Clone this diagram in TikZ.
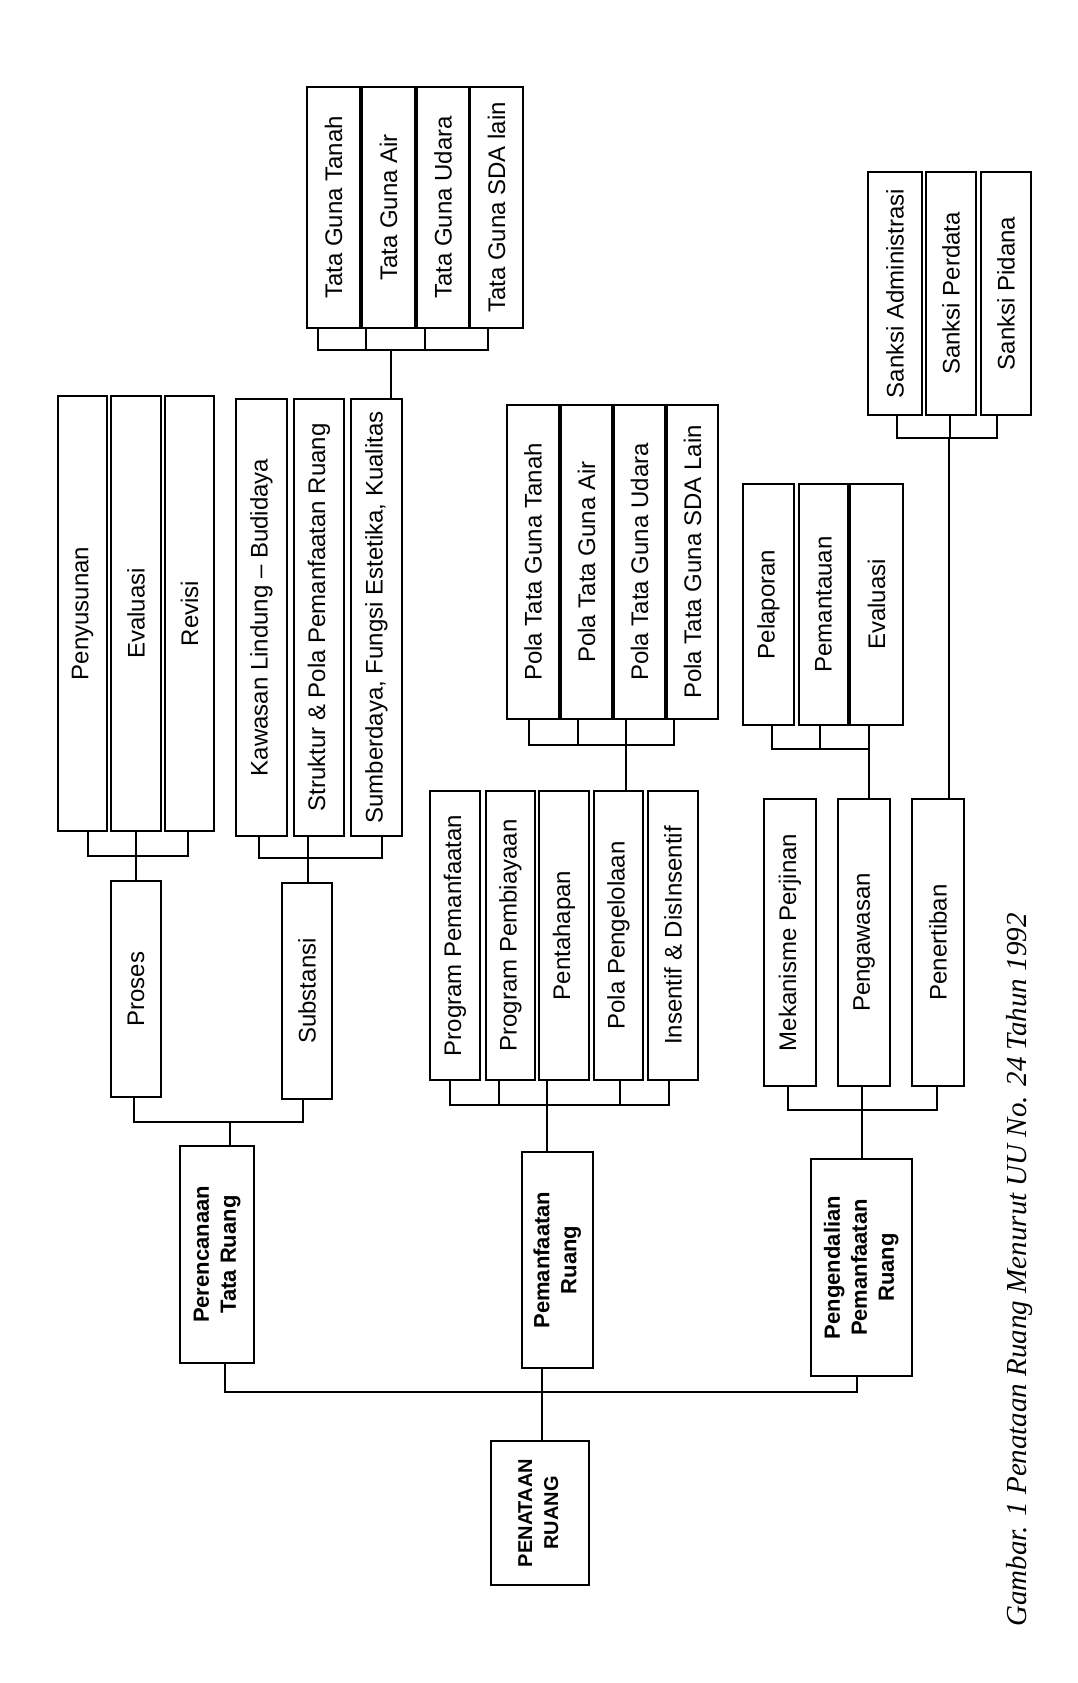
\documentclass[tikz,border=0pt]{standalone}
\usepackage{fontspec}
\usepackage{graphicx}
\setmainfont{Liberation Sans}
\newfontfamily\judulfont{Liberation Serif}

\tikzset{
  kotak/.style={draw, line width=2pt, inner sep=0pt, font=\fontsize{24}{29}\selectfont},
  induk/.style={draw, line width=2pt, inner sep=0pt, font=\fontsize{22}{27}\selectfont\bfseries},
  garis/.style={line width=2pt},
}
\newcommand{\tegak}[1]{\rotatebox{90}{#1}}
\newcommand{\tebal}[1]{\rotatebox{90}{\begin{tabular}{@{}c@{}}#1\end{tabular}}}

\begin{document}
\begin{tikzpicture}[x=1pt, y=-1pt]
    \useasboundingbox (0,0) rectangle (1078,1683);

    % Akar
    \node[induk, font=\fontsize{20}{26}\selectfont\bfseries, minimum width=98pt, minimum height=144pt] (penataan) at (540,1513) {\tebal{PENATAAN\\RUANG}};

    % Tingkat 1
    \node[induk, minimum width=74pt, minimum height=217pt] (perencanaan) at (217,1254.5) {\tebal{Perencanaan\\Tata Ruang}};
    \node[induk, minimum width=71pt, minimum height=216pt] (pemanfaatan) at (557.5,1260) {\tebal{Pemanfaatan\\Ruang}};
    \node[induk, minimum width=101pt, minimum height=217pt] (pengendalian) at (861.5,1267.5) {\tebal{Pengendalian\\Pemanfaatan\\Ruang}};

    % Tingkat 2
    \node[kotak, minimum width=50pt, minimum height=216pt] (proses) at (136,989) {\tegak{Proses}};
    \node[kotak, minimum width=50pt, minimum height=216pt] (substansi) at (307,991) {\tegak{Substansi}};

    \node[kotak, minimum width=50pt, minimum height=289pt] (progpemanfaatan) at (455,935.5) {\tegak{Program Pemanfaatan}};
    \node[kotak, minimum width=49pt, minimum height=289pt] (progpembiayaan) at (510.5,935.5) {\tegak{Program Pembiayaan}};
    \node[kotak, minimum width=50pt, minimum height=289pt] (pentahapan) at (564,935.5) {\tegak{Pentahapan}};
    \node[kotak, minimum width=49pt, minimum height=289pt] (pengelolaan) at (618.5,935.5) {\tegak{Pola Pengelolaan}};
    \node[kotak, minimum width=50pt, minimum height=289pt] (insentif) at (673,935.5) {\tegak{Insentif \& DisInsentif}};

    \node[kotak, minimum width=52pt, minimum height=287pt] (mekanisme) at (790,942.5) {\tegak{Mekanisme Perjinan}};
    \node[kotak, minimum width=52pt, minimum height=287pt] (pengawasan) at (864,942.5) {\tegak{Pengawasan}};
    \node[kotak, minimum width=52pt, minimum height=287pt] (penertiban) at (938,942.5) {\tegak{Penertiban}};

    % Tingkat 3
    \node[kotak, minimum width=49pt, minimum height=435pt] (penyusunan) at (82.5,613.5) {\tegak{Penyusunan}};
    \node[kotak, minimum width=50pt, minimum height=435pt] (evaluasi) at (136,613.5) {\tegak{Evaluasi}};
    \node[kotak, minimum width=49pt, minimum height=435pt] (revisi) at (189.5,613.5) {\tegak{Revisi}};

    \node[kotak, minimum width=51pt, minimum height=437pt] (kawasan) at (261.5,617.5) {\tegak{Kawasan Lindung -- Budidaya}};
    \node[kotak, minimum width=50pt, minimum height=437pt] (struktur) at (319,617.5) {\tegak{Struktur \& Pola Pemanfaatan Ruang}};
    \node[kotak, minimum width=51pt, minimum height=437pt] (sumberdaya) at (376.5,617.5) {\tegak{Sumberdaya, Fungsi Estetika, Kualitas}};

    \node[kotak, minimum width=52pt, minimum height=314pt] (polatanah) at (533,562) {\tegak{Pola Tata Guna Tanah}};
    \node[kotak, minimum width=51pt, minimum height=314pt] (polaair) at (586.5,562) {\tegak{Pola Tata Guna Air}};
    \node[kotak, minimum width=51pt, minimum height=314pt] (polaudara) at (639.5,562) {\tegak{Pola Tata Guna Udara}};
    \node[kotak, minimum width=51pt, minimum height=314pt] (polasda) at (692.5,562) {\tegak{Pola Tata Guna SDA Lain}};

    \node[kotak, minimum width=51pt, minimum height=241pt] (pelaporan) at (768.5,604.5) {\tegak{Pelaporan}};
    \node[kotak, minimum width=49pt, minimum height=241pt] (pemantauan) at (823.5,604.5) {\tegak{Pemantauan}};
    \node[kotak, minimum width=53pt, minimum height=241pt] (evaluasib) at (876.5,604.5) {\tegak{Evaluasi}};

    % Tingkat 4
    \node[kotak, minimum width=53pt, minimum height=241pt] (tgtanah) at (333.5,207.5) {\tegak{Tata Guna Tanah}};
    \node[kotak, minimum width=53pt, minimum height=241pt] (tgair) at (388.5,207.5) {\tegak{Tata Guna Air}};
    \node[kotak, minimum width=52pt, minimum height=241pt] (tgudara) at (443,207.5) {\tegak{Tata Guna Udara}};
    \node[kotak, minimum width=53pt, minimum height=241pt] (tgsda) at (496.5,207.5) {\tegak{Tata Guna SDA lain}};

    \node[kotak, minimum width=54pt, minimum height=243pt] (sanksiadm) at (895,293.5) {\tegak{Sanksi Administrasi}};
    \node[kotak, minimum width=50pt, minimum height=243pt] (sanksiperdata) at (951,293.5) {\tegak{Sanksi Perdata}};
    \node[kotak, minimum width=50pt, minimum height=243pt] (sanksipidana) at (1006,293.5) {\tegak{Sanksi Pidana}};

    % Titik simpul garis penghubung
    \coordinate (jA) at (391,350);
    \coordinate (jB) at (135.5,856);
    \coordinate (jC) at (308,858);
    \coordinate (jD) at (230,1122);
    \coordinate (jE) at (626,745);
    \coordinate (jF) at (547,1105);
    \coordinate (jG) at (869,749);
    \coordinate (jH) at (949,438);
    \coordinate (jI) at (862,1110);
    \coordinate (jJ) at (542,1392);

    % Tata Guna -> Sumberdaya
    \draw[garis] (jA) -- (sumberdaya.north -| jA);
    \draw[garis] ([xshift=-15.5pt]tgtanah.south) |- (jA);
    \draw[garis] ([xshift=-22.5pt]tgair.south) |- (jA);
    \draw[garis] ([xshift=-18pt]tgudara.south) |- (jA);
    \draw[garis] ([xshift=-8.5pt]tgsda.south) |- (jA);

    % Penyusunan, Evaluasi, Revisi -> Proses
    \draw[garis] (jB) -- (proses.north -| jB);
    \draw[garis] ([xshift=5.5pt]penyusunan.south) |- (jB);
    \draw[garis] (evaluasi.south) |- (jB);
    \draw[garis] ([xshift=-1.5pt]revisi.south) |- (jB);

    % Kawasan, Struktur, Sumberdaya -> Substansi
    \draw[garis] (jC) -- (substansi.north -| jC);
    \draw[garis] ([xshift=-2.5pt]kawasan.south) |- (jC);
    \draw[garis] ([xshift=-11pt]struktur.south) |- (jC);
    \draw[garis] ([xshift=5.5pt]sumberdaya.south) |- (jC);

    % Proses, Substansi -> Perencanaan
    \draw[garis] (jD) -- (perencanaan.north -| jD);
    \draw[garis] ([xshift=-2pt]proses.south) |- (jD);
    \draw[garis] ([xshift=-4pt]substansi.south) |- (jD);

    % Pola Tata Guna -> Pola Pengelolaan
    \draw[garis] (jE) -- (pengelolaan.north -| jE);
    \draw[garis] ([xshift=-4pt]polatanah.south) |- (jE);
    \draw[garis] ([xshift=-8.5pt]polaair.south) |- (jE);
    \draw[garis] ([xshift=-13.5pt]polaudara.south) |- (jE);
    \draw[garis] ([xshift=-18.5pt]polasda.south) |- (jE);

    % Program ... Insentif -> Pemanfaatan Ruang
    \draw[garis] (jF) -- (pemanfaatan.north -| jF);
    \draw[garis] ([xshift=-5pt]progpemanfaatan.south) |- (jF);
    \draw[garis] ([xshift=-11.5pt]progpembiayaan.south) |- (jF);
    \draw[garis] ([xshift=-17pt]pentahapan.south) |- (jF);
    \draw[garis] ([xshift=1.5pt]pengelolaan.south) |- (jF);
    \draw[garis] ([xshift=-4pt]insentif.south) |- (jF);

    % Pelaporan, Pemantauan, Evaluasi -> Pengawasan
    \draw[garis] (jG) -- (pengawasan.north -| jG);
    \draw[garis] ([xshift=3.5pt]pelaporan.south) |- (jG);
    \draw[garis] ([xshift=-3.5pt]pemantauan.south) |- (jG);
    \draw[garis] ([xshift=-7.5pt]evaluasib.south) |- (jG);

    % Sanksi -> Penertiban
    \draw[garis] (jH) -- (penertiban.north -| jH);
    \draw[garis] ([xshift=2pt]sanksiadm.south) |- (jH);
    \draw[garis] ([xshift=-1pt]sanksiperdata.south) |- (jH);
    \draw[garis] ([xshift=-9pt]sanksipidana.south) |- (jH);

    % Mekanisme, Pengawasan, Penertiban -> Pengendalian
    \draw[garis] (jI) -- (pengendalian.north -| jI);
    \draw[garis] ([xshift=-2pt]mekanisme.south) |- (jI);
    \draw[garis] ([xshift=-2pt]pengawasan.south) |- (jI);
    \draw[garis] ([xshift=-1pt]penertiban.south) |- (jI);

    % Tingkat 1 -> Penataan Ruang
    \draw[garis] (jJ) -- (penataan.north -| jJ);
    \draw[garis] ([xshift=8pt]perencanaan.south) |- (jJ);
    \draw[garis] ([xshift=-15.5pt]pemanfaatan.south) |- (jJ);
    \draw[garis] ([xshift=-4.5pt]pengendalian.south) |- (jJ);

    % Keterangan gambar
    \node[rotate=90, font=\judulfont\itshape\fontsize{29}{34}\selectfont] (judul) at (1020,1270) {Gambar. 1 Penataan Ruang Menurut UU No. 24 Tahun 1992};
\end{tikzpicture}
\end{document}
